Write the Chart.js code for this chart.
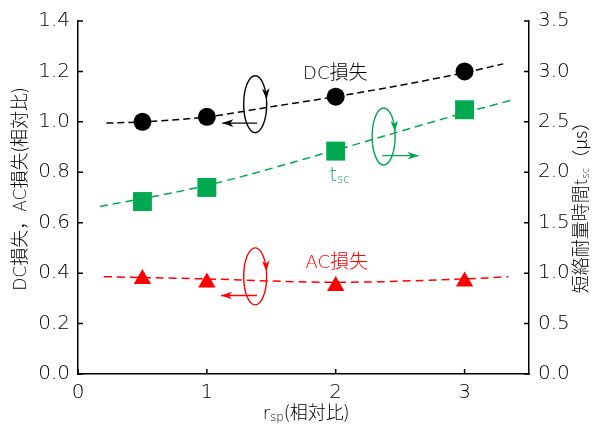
<!DOCTYPE html>
<html>
<head>
<meta charset="utf-8">
<script src="https://cdn.jsdelivr.net/npm/chart.js@4"></script>
<style>
  html, body { margin: 0; padding: 0; background: #fff; }
</style>
</head>
<body>
<canvas id="chart" width="593" height="430"></canvas>
<script>
// measured points
const rsp = [0.5, 1, 2, 3];
const dcLoss = [1.00, 1.02, 1.10, 1.20];
const tsc = [1.71, 1.85, 2.21, 2.62];
const acLoss = [0.377, 0.363, 0.349, 0.367];

// dashed trend curves
const dcTrendX = [0.22, 0.5, 1, 1.5, 2, 2.5, 3, 3.3];
const dcTrendY = [0.995, 1.0, 1.02, 1.06, 1.10, 1.145, 1.195, 1.23];
const tscTrendX = [0.17, 1, 2, 3, 3.38];
const tscTrendY = [1.66, 1.87, 2.22, 2.59, 2.72];
const acTrendX = [0.2, 1, 2, 3, 3.34];
const acTrendY = [0.386, 0.377, 0.364, 0.377, 0.386];

// ticks
const xTicks = [0, 1, 2, 3];
const leftTicks = [0, 0.2, 0.4, 0.6, 0.8, 1.0, 1.2, 1.4];
const rightTicks = [0, 0.5, 1.0, 1.5, 2.0, 2.5, 3.0, 3.5];

const F = '"DejaVu Sans", "Noto Sans CJK JP", sans-serif';
const FJ = '"Noto Sans CJK JP", sans-serif';
const BLACK = '#000';
const GREEN = '#00a84f';
const RED = '#ff0000';

function pts(xs, ys) {
    return xs.map((v, i) => ({ x: v, y: ys[i] }));
}

// rotating arrows: centre (x, left-axis y), horizontal arrow at ay from ax0 to ax1
const loops = [
    { x: 1.375, y: 1.07, ay: 0.995, ax0: 1.39, ax1: 1.12, color: BLACK },
    { x: 2.372, y: 0.942, ay: 0.866, ax0: 2.36, ax1: 2.644, color: GREEN },
    { x: 1.375, y: 0.387, ay: 0.3115, ax0: 1.39, ax1: 1.11, color: RED }
];

function head(ctx, px, py, dx, dy) {
    const L = 11, W = 3.8;
    const bx = px - dx * L, by = py - dy * L;
    const nx = -dy, ny = dx;
    ctx.beginPath();
    ctx.moveTo(px, py);
    ctx.lineTo(bx + nx * W, by + ny * W);
    ctx.lineTo(px - dx * L * 0.72, py - dy * L * 0.72);
    ctx.lineTo(bx - nx * W, by - ny * W);
    ctx.closePath();
    ctx.fill();
}

// mixed text: parts = [[text, size, shift, family], ...]
function rich(ctx, parts, cx, cy, color) {
    const font = p => '300 ' + p[1] + 'px ' + (p[3] || FJ);
    let w = 0;
    parts.forEach(p => { ctx.font = font(p); w += ctx.measureText(p[0]).width; });
    let x = cx - w / 2;
    ctx.fillStyle = color;
    ctx.textBaseline = 'alphabetic';
    ctx.textAlign = 'left';
    parts.forEach(p => {
        ctx.font = font(p);
        ctx.fillText(p[0], x, cy + 6.5 + p[2]);
        x += ctx.measureText(p[0]).width;
    });
}

const decor = {
    id: 'decor',
    afterDraw(chart) {
        const { ctx, chartArea: a, scales } = chart;
        const sx = scales.x, sy = scales.y;

        // inward tick marks
        ctx.save();
        ctx.strokeStyle = '#000';
        ctx.lineWidth = 1.5;
        ctx.beginPath();
        xTicks.forEach(v => { const p = sx.getPixelForValue(v); ctx.moveTo(p, a.bottom); ctx.lineTo(p, a.bottom - 5); });
        leftTicks.forEach(v => { const p = sy.getPixelForValue(v); ctx.moveTo(a.left, p); ctx.lineTo(a.left + 5, p); });
        rightTicks.forEach(v => { const p = scales.y2.getPixelForValue(v); ctx.moveTo(a.right, p); ctx.lineTo(a.right - 5, p); });
        ctx.stroke();

        // rotation arrows
        loops.forEach(l => {
            const cx = sx.getPixelForValue(l.x), cy = sy.getPixelForValue(l.y);
            const rx = 11.5, ry = 28.5;
            ctx.strokeStyle = l.color;
            ctx.fillStyle = l.color;
            ctx.lineWidth = 1.4;
            ctx.beginPath();
            ctx.ellipse(cx, cy, rx, ry, 0, 0, Math.PI * 2);
            ctx.stroke();
            const t = -0.17;
            let dx = -rx * Math.sin(t), dy = ry * Math.cos(t);
            const n = Math.hypot(dx, dy);
            head(ctx, cx + rx * Math.cos(t), cy + ry * Math.sin(t), dx / n, dy / n);

            const ay = sy.getPixelForValue(l.ay);
            const x0 = sx.getPixelForValue(l.ax0), x1 = sx.getPixelForValue(l.ax1);
            ctx.beginPath();
            ctx.moveTo(x0, ay);
            ctx.lineTo(x1, ay);
            ctx.stroke();
            head(ctx, x1, ay, Math.sign(x1 - x0), 0);
        });

        // series labels
        rich(ctx, [['DC', 18, 0, F], ['損失', 19, 0]], sx.getPixelForValue(1.997), sy.getPixelForValue(1.195), '#000');
        rich(ctx, [['AC', 18, 0, F], ['損失', 19, 0]], sx.getPixelForValue(2.008), sy.getPixelForValue(0.4456), '#f00');
        rich(ctx, [['t', 19, 0, F], ['sc', 12, 2, F]], sx.getPixelForValue(2.03), sy.getPixelForValue(0.79), '#109a50');

        // axis titles
        ctx.save();
        ctx.translate(19, 189);
        ctx.rotate(-Math.PI / 2);
        rich(ctx, [['DC', 17, 0, F], ['損失，', 18, 0], ['AC', 17, 0, F], ['損失(相対比)', 18, 0]], 0, 0, '#000');
        ctx.restore();

        ctx.save();
        ctx.translate(580, 203);
        ctx.rotate(-Math.PI / 2);
        rich(ctx, [['短絡耐量時間', 18, 0], ['t', 17, 0, F], ['sc', 10, 2, F], ['（μs）', 18, 0]], 0, 0, '#000');
        ctx.restore();

        rich(ctx, [['r', 18, 0, F], ['sp', 12, 2, F], ['(相対比)', 18, 0]], 306, 412, '#000');
        ctx.restore();
    }
};

function axisTicks(list) {
    return s => { s.ticks = list.map(v => ({ value: v })); };
}

const tickFont = { family: F, size: 20, weight: '200' };

new Chart(document.getElementById('chart'), {
    type: 'scatter',
    data: {
        datasets: [
            {
                label: 'DC損失',
                data: pts(rsp, dcLoss),
                yAxisID: 'y',
                pointStyle: 'circle',
                pointRadius: 9,
                backgroundColor: BLACK,
                borderColor: BLACK,
                borderWidth: 0
            },
            {
                label: 'tsc',
                data: pts(rsp, tsc),
                yAxisID: 'y2',
                pointStyle: 'rect',
                pointRadius: 13.4,
                backgroundColor: GREEN,
                borderColor: GREEN,
                borderWidth: 0
            },
            {
                label: 'AC損失',
                data: pts(rsp, acLoss),
                yAxisID: 'y',
                pointStyle: 'triangle',
                pointRadius: 10,
                backgroundColor: RED,
                borderColor: RED,
                borderWidth: 0
            },
            {
                type: 'line',
                data: pts(dcTrendX, dcTrendY),
                yAxisID: 'y',
                borderColor: BLACK,
                borderWidth: 1.5,
                borderDash: [7, 4],
                pointRadius: 0,
                cubicInterpolationMode: 'monotone',
                fill: false
            },
            {
                type: 'line',
                data: pts(tscTrendX, tscTrendY),
                yAxisID: 'y2',
                borderColor: GREEN,
                borderWidth: 1.5,
                borderDash: [8, 5],
                pointRadius: 0,
                cubicInterpolationMode: 'monotone',
                fill: false
            },
            {
                type: 'line',
                data: pts(acTrendX, acTrendY),
                yAxisID: 'y',
                borderColor: RED,
                borderWidth: 1.5,
                borderDash: [8, 5],
                pointRadius: 0,
                tension: 0.4,
                fill: false
            }
        ]
    },
    options: {
        responsive: false,
        animation: false,
        devicePixelRatio: 1,
        layout: { padding: { top: 19, left: 0, right: 0, bottom: 0 } },
        plugins: { legend: { display: false }, tooltip: { enabled: false } },
        scales: {
            x: {
                type: 'linear',
                position: 'bottom',
                min: 0,
                max: 3.5,
                afterFit: s => { s.height = 56; },
                afterBuildTicks: axisTicks(xTicks),
                grid: { display: false, drawTicks: false },
                border: { display: true, color: '#000', width: 1.5 },
                ticks: { padding: 7, color: '#000', font: tickFont, maxRotation: 0, autoSkip: false }
            },
            y: {
                type: 'linear',
                position: 'left',
                min: 0,
                max: 1.4,
                afterFit: s => { s.width = 78; },
                afterBuildTicks: axisTicks(leftTicks),
                grid: { display: false, drawTicks: false },
                border: { display: true, color: '#000', width: 1.5 },
                ticks: { padding: 8, color: '#000', font: tickFont, callback: v => v.toFixed(1) }
            },
            y2: {
                type: 'linear',
                position: 'right',
                min: 0,
                max: 3.5,
                afterFit: s => { s.width = 64; },
                afterBuildTicks: axisTicks(rightTicks),
                grid: { display: false, drawTicks: false },
                border: { display: true, color: '#000', width: 1.5 },
                ticks: { padding: 9, color: '#000', font: tickFont, callback: v => v.toFixed(1) }
            }
        }
    },
    plugins: [decor]
});
</script>
</body>
</html>
